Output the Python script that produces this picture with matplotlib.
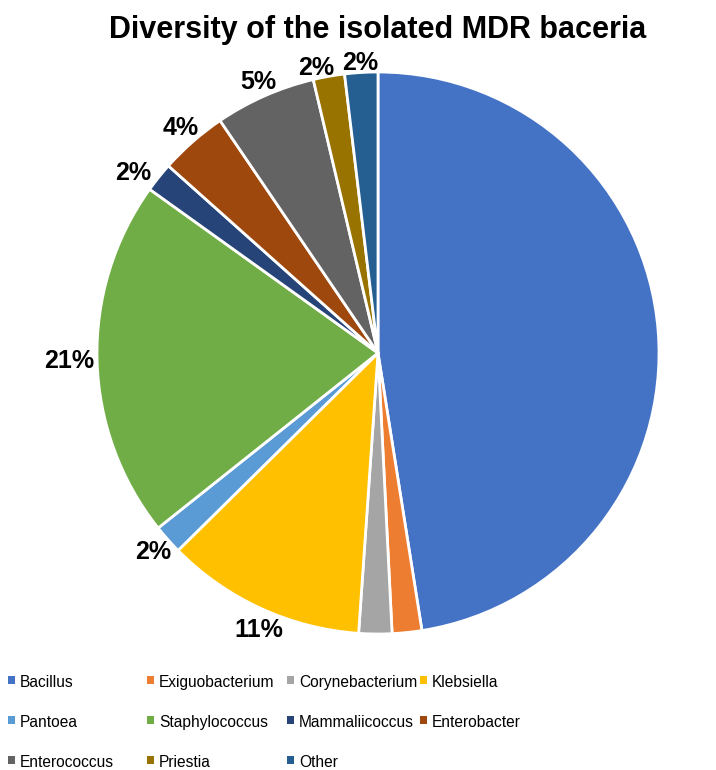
import numpy as np
import matplotlib
matplotlib.use("Agg")
import matplotlib.pyplot as plt
from matplotlib.patches import Rectangle

# Share of each genus among the isolates (percent)
genera = ["Bacillus", "Exiguobacterium", "Corynebacterium", "Klebsiella",
          "Pantoea", "Staphylococcus", "Mammaliicoccus", "Enterobacter",
          "Enterococcus", "Priestia", "Other"]
shares = [47.5, 1.7, 1.9, 11.5, 1.7, 20.6, 1.7, 3.9, 5.8, 1.8, 1.9]
# data labels as shown (first three are hidden in the original)
pct_labels = ["", "", "", "11%", "2%", "21%", "2%", "4%", "5%", "2%", "2%"]
colours = ["#4472C4", "#ED7D31", "#A5A5A5", "#FFC000", "#5B9BD5", "#70AD47",
           "#264478", "#9E480E", "#636363", "#997300", "#255E91"]

W, H = 716, 770
fig = plt.figure(figsize=(W / 100, H / 100), dpi=100)

# pie axes: circle of radius ~281 px centred at (378, 353)
ax = fig.add_axes([97 / W, (H - 634) / H, 562 / W, 562 / H])
wedges, _ = ax.pie(shares, colors=colours, startangle=90, counterclock=False,
                   radius=1.0, wedgeprops=dict(edgecolor="white", linewidth=2))
ax.set_xlim(-1, 1)
ax.set_ylim(-1, 1)
ax.set_aspect("equal")
ax.axis("off")

# small manual nudges (in px) where Excel pushed crowded labels apart
nudge = {3: (6, -4), 6: (-10, -8), 9: (-11, -3)}
px = 1 / 281.0

# "outside end" style labels
for i, (w, lab) in enumerate(zip(wedges, pct_labels)):
    if not lab:
        continue
    ang = np.deg2rad((w.theta1 + w.theta2) / 2)
    c, s = np.cos(ang), np.sin(ang)
    r = 1.0 + 0.033 * len(lab) * abs(c) + 0.03 * abs(s)
    dx, dy = nudge.get(i, (0, 0))
    ax.text(r * c + dx * px, r * s + dy * px, lab, ha="center", va="center",
            fontsize=18, fontweight="bold",
            family=["Liberation Sans", "DejaVu Sans"], clip_on=False)

fig.text(378 / W, 1 - 30 / H, "Diversity of the isolated MDR baceria",
         ha="center", va="center", fontsize=22, fontweight="bold",
         family=["Liberation Sans Narrow", "Liberation Sans", "DejaVu Sans"])

# legend laid out like the Excel one: 4 fixed columns, filled row by row
col_x = [8, 147, 287, 420]
row_y = [680, 720, 760]
for i, (name, col) in enumerate(zip(genera, colours)):
    x = col_x[i % 4]
    y = row_y[i // 4]
    fig.patches.append(Rectangle((x / W, (H - y - 4) / H), 7 / W, 8 / H,
                                 transform=fig.transFigure, facecolor=col,
                                 edgecolor="none"))
    fig.text((x + 12) / W, 1 - (y + 1) / H, name, ha="left",
             va="center_baseline", fontsize=11.2,
             family=["Liberation Sans", "DejaVu Sans"])

fig.savefig("out.png", dpi=100)
